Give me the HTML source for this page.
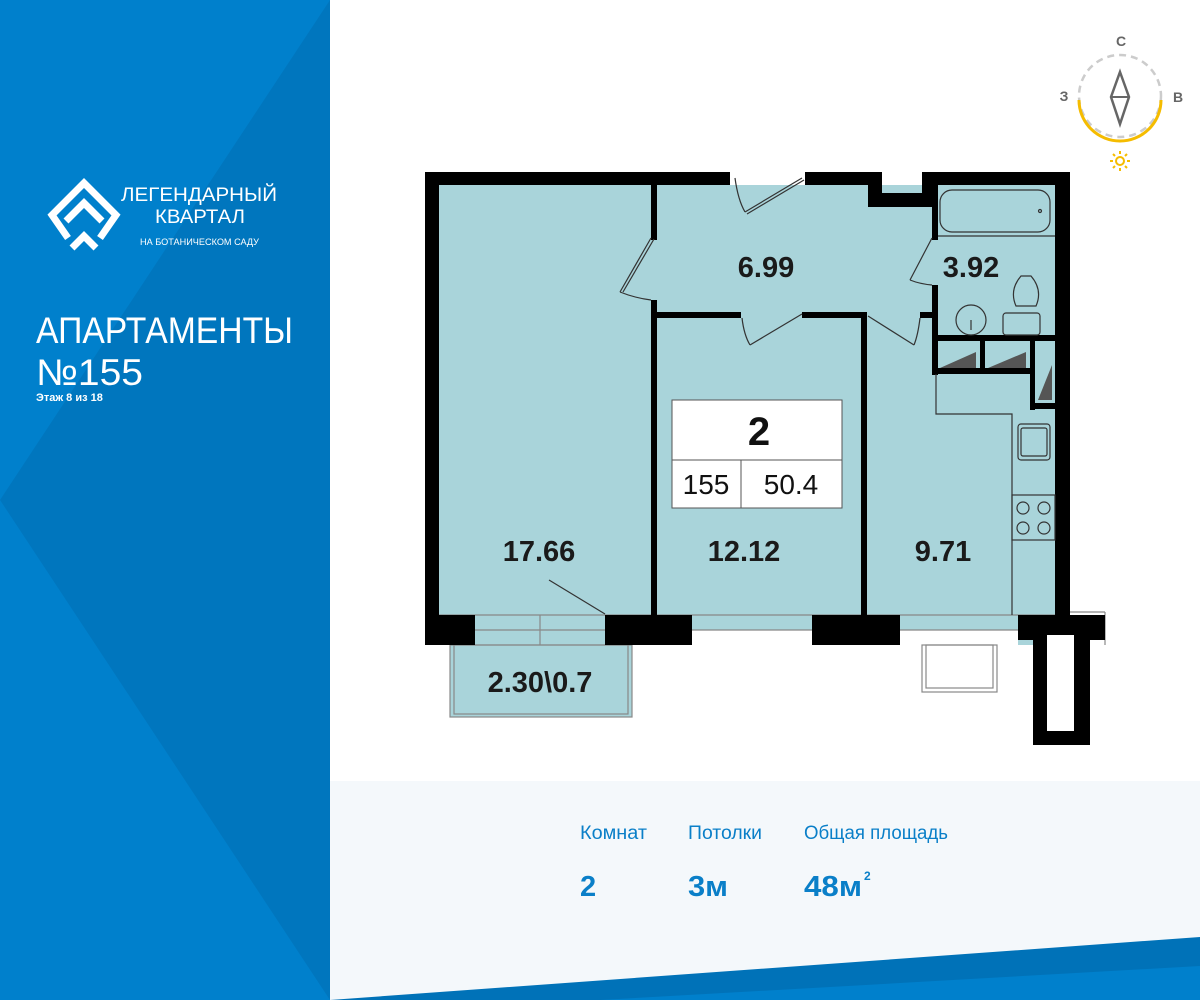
<!DOCTYPE html>
<html><head><meta charset="utf-8"><style>
html,body{margin:0;padding:0;width:1200px;height:1000px;overflow:hidden;background:#fff}
svg{display:block}
text{font-family:"Liberation Sans",sans-serif}
</style></head><body>
<svg width="1200" height="1000" viewBox="0 0 1200 1000" xmlns="http://www.w3.org/2000/svg">
<rect x="0" y="0" width="330" height="1000" fill="#0080cc"/>
<polygon points="330,0 0,500 330,1000" fill="#0076be"/>
<!-- logo -->
<g fill="none" stroke="#fff" stroke-width="7" stroke-linejoin="miter">
<polyline points="68,238 52,215 84,183 116,215 100,238"/>
<polyline points="66,221 84,203 102,221"/>
<polyline points="72,248 84,236 96,248"/>
</g>
<text x="121" y="201" fill="#fff" font-size="19" textLength="156" lengthAdjust="spacingAndGlyphs">ЛЕГЕНДАРНЫЙ</text>
<text x="155" y="223" fill="#fff" font-size="19" textLength="90" lengthAdjust="spacingAndGlyphs">КВАРТАЛ</text>
<text x="140" y="245" fill="#fff" font-size="9.5" textLength="119" lengthAdjust="spacingAndGlyphs">НА БОТАНИЧЕСКОМ САДУ</text>
<text x="36" y="343" fill="#fff" font-size="37" textLength="257" lengthAdjust="spacingAndGlyphs">АПАРТАМЕНТЫ</text>
<text x="36" y="385" fill="#fff" font-size="37" textLength="107" lengthAdjust="spacingAndGlyphs">№155</text>
<text x="36" y="401" fill="#fff" font-size="11" font-weight="bold">Этаж 8 из 18</text>

<rect x="330" y="781" width="870" height="219" fill="#f4f8fb"/>
<polygon points="330,1000 1200,937 1200,1000" fill="#0072b8"/>
<polygon points="600,1000 1200,966 1200,1000" fill="#0080cc"/>
<text x="580" y="839" fill="#0a7fc8" font-size="19" textLength="67" lengthAdjust="spacingAndGlyphs">Комнат</text>
<text x="688" y="839" fill="#0a7fc8" font-size="19" textLength="74" lengthAdjust="spacingAndGlyphs">Потолки</text>
<text x="804" y="839" fill="#0a7fc8" font-size="19" textLength="144" lengthAdjust="spacingAndGlyphs">Общая площадь</text>
<text x="580" y="896" fill="#0a7fc8" font-size="29" font-weight="bold">2</text>
<text x="688" y="896" fill="#0a7fc8" font-size="29" font-weight="bold" textLength="40" lengthAdjust="spacingAndGlyphs">3м</text>
<text x="804" y="896" fill="#0a7fc8" font-size="29" font-weight="bold" textLength="58" lengthAdjust="spacingAndGlyphs">48м</text>
<text x="864" y="880" fill="#0a7fc8" font-size="12" font-weight="bold">2</text>

<circle cx="1120" cy="96" r="41" fill="none" stroke="#ccc" stroke-width="2.5" stroke-dasharray="7 5"/>
<path d="M1079,100 A41,41 0 0 0 1161,100" fill="none" stroke="#f5bc00" stroke-width="3"/>
<polygon points="1120,72 1129,97 1120,124 1111,97" fill="none" stroke="#666" stroke-width="2.5"/>
<line x1="1111" y1="97" x2="1129" y2="97" stroke="#666" stroke-width="2"/>
<text x="1121" y="46" fill="#666" font-size="14" font-weight="bold" text-anchor="middle">С</text>
<text x="1064" y="101" fill="#666" font-size="14" font-weight="bold" text-anchor="middle">З</text>
<text x="1178" y="102" fill="#666" font-size="14" font-weight="bold" text-anchor="middle">В</text>
<circle cx="1120" cy="161" r="4" fill="none" stroke="#f5bc00" stroke-width="2"/>
<g stroke="#f5bc00" stroke-width="2"><line x1="1120" y1="151" x2="1120" y2="154"/><line x1="1120" y1="168" x2="1120" y2="171"/><line x1="1110" y1="161" x2="1113" y2="161"/><line x1="1127" y1="161" x2="1130" y2="161"/><line x1="1113" y1="154" x2="1115" y2="156"/><line x1="1125" y1="166" x2="1127" y2="168"/><line x1="1127" y1="154" x2="1125" y2="156"/><line x1="1113" y1="168" x2="1115" y2="166"/></g>

<polygon points="438,185 1055,185 1055,615 438,615" fill="#a9d4da"/>
<rect x="438" y="615" width="617" height="30" fill="#a9d4da"/>
<rect x="692" y="630" width="120" height="15" fill="#fff"/>
<rect x="900" y="630" width="118" height="15" fill="#fff"/>
<rect x="450" y="645" width="182" height="72" fill="#a9d4da"/>
<g fill="none" stroke="#888" stroke-width="1.2">
<rect x="450" y="645" width="182" height="72"/><rect x="454" y="645" width="174" height="69"/>
<rect x="922" y="645" width="75" height="47"/><rect x="926" y="645" width="67" height="43"/>
<line x1="475" y1="630" x2="605" y2="630"/><line x1="540" y1="615" x2="540" y2="645"/>
<line x1="692" y1="630" x2="812" y2="630"/><line x1="900" y1="630" x2="1018" y2="630"/>
<line x1="438" y1="615" x2="1055" y2="615"/>
<line x1="1105" y1="612" x2="1105" y2="645"/><line x1="1070" y1="612" x2="1105" y2="612"/>
</g>
<g fill="#000">
<rect x="425" y="172" width="305" height="13"/>
<rect x="805" y="172" width="77" height="13"/>
<rect x="868" y="193" width="67" height="14"/>
<rect x="868" y="172" width="14" height="35"/>
<rect x="922" y="172" width="148" height="13"/>
<rect x="922" y="172" width="14" height="35"/>
<rect x="425" y="172" width="14" height="473"/>
<rect x="1055" y="172" width="15" height="458"/>
<rect x="651" y="185" width="6" height="55"/>
<rect x="651" y="300" width="6" height="315"/>
<rect x="651" y="312" width="90" height="6"/>
<rect x="802" y="312" width="64" height="6"/>
<rect x="861" y="312" width="6" height="303"/>
<rect x="932" y="185" width="6" height="55"/>
<rect x="932" y="285" width="6" height="90"/>
<rect x="920" y="312" width="16" height="6"/>
<rect x="932" y="335" width="138" height="6"/>
<rect x="932" y="368" width="100" height="6"/>
<rect x="980" y="335" width="5" height="39"/>
<rect x="1030" y="335" width="5" height="75"/>
<rect x="1030" y="403" width="30" height="6"/>
<rect x="425" y="615" width="50" height="30"/>
<rect x="605" y="615" width="87" height="30"/>
<rect x="812" y="615" width="88" height="30"/>
<rect x="1018" y="615" width="87" height="25"/>
<rect x="1033" y="630" width="57" height="115"/>
</g>
<rect x="1047" y="635" width="27" height="96" fill="#fff"/>
<g fill="#555"><polygon points="940,368 976,352 976,368"/><polygon points="988,368 1026,352 1026,368"/><polygon points="1038,400 1052,365 1052,400"/></g>
<g fill="none" stroke="#333" stroke-width="1.2">
<path d="M735,178 Q738,200 745,212"/><line x1="745" y1="212" x2="802" y2="178"/><line x1="747" y1="214" x2="804" y2="180"/>
<path d="M620,292 Q635,298 651,300"/><line x1="620" y1="292" x2="651" y2="238"/><line x1="623" y1="292" x2="654" y2="239"/>
<path d="M742,318 Q744,335 750,345"/><line x1="750" y1="345" x2="802" y2="314"/>
<path d="M910,280 Q920,284 932,285"/><line x1="910" y1="280" x2="932" y2="238"/>
<path d="M920,318 Q918,335 914,345"/><line x1="914" y1="345" x2="868" y2="316"/>
<line x1="549" y1="580" x2="605" y2="614"/>
<rect x="940" y="190" width="110" height="42" rx="12"/>
<line x1="938" y1="236" x2="1055" y2="236"/>
<circle cx="1040" cy="211" r="1.5"/>
<circle cx="971" cy="320" r="15"/><line x1="971" y1="320" x2="971" y2="330"/>
<path d="M1021,276 q-12,14 -5,30 h20 q7,-16 -5,-30 z"/>
<rect x="1003" y="313" width="37" height="22" rx="3"/>
<polyline points="936,374 936,414 1012,414 1012,615"/>
<rect x="1018" y="424" width="32" height="36" rx="3"/><rect x="1021" y="428" width="26" height="28" rx="2"/>
<rect x="1012" y="495" width="43" height="45"/>
<circle cx="1023" cy="508" r="6"/><circle cx="1044" cy="508" r="6"/><circle cx="1023" cy="528" r="6"/><circle cx="1044" cy="528" r="6"/>
</g>
<rect x="672" y="400" width="170" height="108" fill="#fff" stroke="#555" stroke-width="1"/>
<line x1="672" y1="460" x2="842" y2="460" stroke="#555"/>
<line x1="741" y1="460" x2="741" y2="508" stroke="#555"/>
<text x="759" y="445" font-size="40" font-weight="bold" text-anchor="middle" fill="#111">2</text>
<text x="706" y="494" font-size="28" text-anchor="middle" fill="#111">155</text>
<text x="791" y="494" font-size="28" text-anchor="middle" fill="#111">50.4</text>
<g font-size="29" font-weight="bold" fill="#1a1a1a" text-anchor="middle">
<text x="766" y="277">6.99</text>
<text x="971" y="277">3.92</text>
<text x="539" y="561">17.66</text>
<text x="744" y="561">12.12</text>
<text x="943" y="561">9.71</text>
<text x="540" y="692">2.30\0.7</text>
</g>
</svg>
</body></html>
